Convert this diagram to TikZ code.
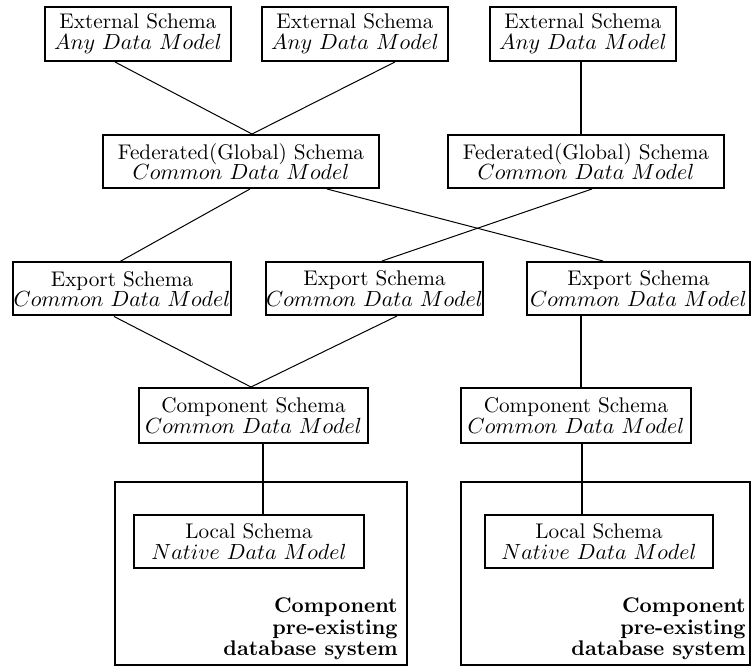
\documentclass[tikz,border=0pt]{standalone}
\usepackage{tikz}

\begin{document}
\begin{tikzpicture}[x=0.5pt, y=-0.5pt,
	main/.style = {draw, line width=1pt, inner sep=0pt, align=center, font=\fontsize{10.6}{10.4}\selectfont},
	thin/.style = {line width=0.5pt},
	thick/.style = {line width=1pt}]
			\useasboundingbox (0,0) rectangle (752,668);
			\node[main, minimum width=93pt, minimum height=27pt] (e1) at (138,34) {External Schema\\ $Any\ Data\ Model$};
			\node[main, minimum width=93pt, minimum height=27pt] (e2) at (355,34) {External Schema\\ $Any\ Data\ Model$};
			\node[main, minimum width=93pt, minimum height=27pt] (e3) at (583,34) {External Schema\\ $Any\ Data\ Model$};
			\node[main, minimum width=138pt, minimum height=26.5pt] (f1) at (241,161.5) {Federated(Global) Schema\\ $Common\ Data\ Model$};
			\node[main, minimum width=138pt, minimum height=26.5pt] (f2) at (586,161.5) {Federated(Global) Schema\\ $Common\ Data\ Model$};
			\node[main, minimum width=109pt, minimum height=26.5pt] (x1) at (122,289) {Export Schema\\ $Common\ Data\ Model$};
			\node[main, minimum width=107.5pt, minimum height=26.5pt] (x2) at (374.5,288.5) {Export Schema\\ $Common\ Data\ Model$};
			\node[main, minimum width=111.5pt, minimum height=26.5pt] (x3) at (638.5,288.5) {Export Schema\\ $Common\ Data\ Model$};
			\node[main, minimum width=114.5pt, minimum height=27.5pt] (c1) at (253.5,415.5) {Component Schema\\ $Common\ Data\ Model$};
			\node[main, minimum width=115pt, minimum height=27.5pt] (c2) at (576,415.5) {Component Schema\\ $Common\ Data\ Model$};
			\node[main, minimum width=146pt, minimum height=91.5pt] (s1) at (261,573.5) {};
			\node[main, minimum width=144.5pt, minimum height=91.5pt] (s2) at (605.5,573.5) {};
			\node[main, minimum width=115pt, minimum height=26.5pt] (l1) at (249,541.5) {Local Schema\\ $Native\ Data\ Model$};
			\node[main, minimum width=114pt, minimum height=26.5pt] (l2) at (599,541.5) {Local Schema\\ $Native\ Data\ Model$};
			\node[align=right, inner sep=0pt, anchor=south east, font=\fontsize{10.6}{10.6}\selectfont\bfseries] (t1) at ([shift={(-10,-6)}]s1.south east) {Component\\ pre-existing\\ database system};
			\node[align=right, inner sep=0pt, anchor=south east, font=\fontsize{10.6}{10.6}\selectfont\bfseries] (t2) at ([shift={(-5,-6)}]s2.south east) {Component\\ pre-existing\\ database system};
			\draw[thin] ([shift={(-23,0)}]e1.south) -- ([shift={(11,0)}]f1.north);
			\draw[thin] ([shift={(40,0)}]e2.south) -- ([shift={(11,0)}]f1.north);
			\draw[thick] ([shift={(-2,0)}]e3.south) -- ([shift={(-5,0)}]f2.north);
			\draw[thin] ([shift={(9,0)}]f1.south) -- ([shift={(-2,0)}]x1.north);
			\draw[thin] ([shift={(86,0)}]f1.south) -- ([shift={(-35.5,0)}]x3.north);
			\draw[thin] ([shift={(6,0)}]f2.south) -- ([shift={(7.5,0)}]x2.north);
			\draw[thin] ([shift={(-8,0)}]x1.south) -- ([shift={(-2.5,0)}]c1.north);
			\draw[thin] ([shift={(22.5,0)}]x2.south) -- ([shift={(-2.5,0)}]c1.north);
			\draw[thick] ([shift={(-57.5,0)}]x3.south) -- ([shift={(5,0)}]c2.north);
			\draw[thick] ([shift={(9.5,0)}]c1.south) -- ([shift={(14,0)}]l1.north);
			\draw[thick] ([shift={(5.5,0)}]c2.south) -- ([shift={(-17.5,0)}]l2.north);
		\end{tikzpicture}
\end{document}
